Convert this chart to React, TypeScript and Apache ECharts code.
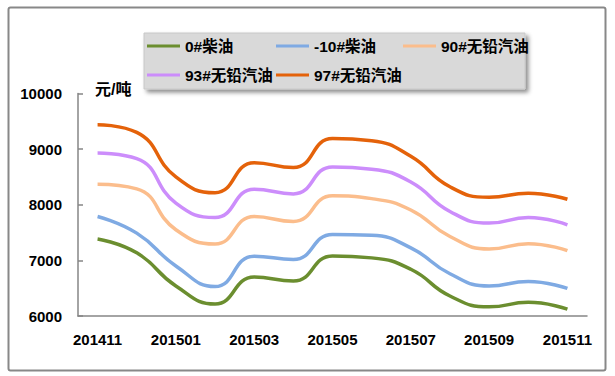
import React, { useEffect, useRef } from "react";
import * as echarts from "echarts";

const months = ["201411", "201412", "201501", "201502", "201503", "201504", "201505", "201506", "201507", "201508", "201509", "201510", "201511"];
const seriesNames = ["0#柴油", "-10#柴油", "90#无铅汽油", "93#无铅汽油", "97#无铅汽油"];
const diesel0 = [7385, 7135, 6540, 6215, 6700, 6630, 7080, 7045, 6840, 6360, 6165, 6245, 6125];
const diesel10 = [7790, 7490, 6900, 6530, 7075, 7015, 7465, 7450, 7225, 6760, 6540, 6620, 6495];
const gas90 = [8370, 8285, 7550, 7295, 7790, 7700, 8160, 8110, 7905, 7430, 7205, 7300, 7175];
const gas93 = [8930, 8830, 8030, 7770, 8280, 8195, 8680, 8640, 8410, 7880, 7670, 7770, 7640];
const gas97 = [9440, 9300, 8500, 8216, 8757, 8668, 9190, 9150, 8870, 8323, 8134, 8205, 8098];
const seriesColors = ["#6b8e2f", "#7faae3", "#fbbd8c", "#cc8dfb", "#e4620a"];
const yTicks = { min: 6000, max: 10000, step: 1000 };
const unitLabel = "元/吨";

const FONT = '"Liberation Sans", "Noto Sans CJK SC", sans-serif';

export default function App() {
  const ref = useRef<HTMLDivElement>(null);
  useEffect(() => {
    if (!ref.current) return;
    const chart = echarts.init(ref.current, undefined, { renderer: "svg" });
    const allData = [diesel0, diesel10, gas90, gas93, gas97];
    const legendPos = [
      { left: 147, top: 36 },
      { left: 276, top: 36 },
      { left: 403, top: 36 },
      { left: 147, top: 65 },
      { left: 276, top: 65 },
    ];
    chart.setOption({
      animation: false,
      backgroundColor: "#ffffff",
      grid: { left: 78, right: 28, top: 93.5, bottom: 60, containLabel: false },
      graphic: [
        {
          type: "rect",
          z: -10,
          shape: { x: 8.5, y: 7.5, width: 597, height: 363, r: 2 },
          style: { fill: "#ffffff", stroke: "#888888", lineWidth: 2 },
        },
        {
          type: "rect",
          z: 0,
          shape: { x: 144, y: 33, width: 381, height: 56 },
          style: {
            fill: "#d9d9d9",
            stroke: "#c8c8c8",
            lineWidth: 1,
            shadowBlur: 4,
            shadowOffsetX: 3,
            shadowOffsetY: 3,
            shadowColor: "rgba(0,0,0,0.45)",
          },
        },
        {
          type: "text",
          z: 5,
          left: 95,
          top: 81,
          style: { text: unitLabel, font: "bold 16px " + FONT, fill: "#000000" },
        },
      ],
      legend: seriesNames.map((n, i) => ({
        data: [n],
        left: legendPos[i].left,
        top: legendPos[i].top,
        padding: 0,
        icon: "rect",
        itemWidth: 33,
        itemHeight: 3,
        textStyle: { fontSize: 15.5, fontWeight: "bold", fontFamily: FONT, color: "#000000", lineHeight: 20 },
        z: 5,
      })),
      xAxis: {
        type: "category",
        data: months,
        boundaryGap: true,
        axisLine: { lineStyle: { color: "#868686", width: 1.5 } },
        axisTick: { inside: true, length: 5, interval: 1, lineStyle: { color: "#868686", width: 1.5 } },
        axisLabel: { interval: 1, margin: 16, fontSize: 15, fontWeight: "bold", fontFamily: FONT, color: "#000000" },
        splitLine: { show: false },
      },
      yAxis: {
        type: "value",
        min: yTicks.min,
        max: yTicks.max,
        interval: yTicks.step,
        axisLine: { show: true, lineStyle: { color: "#868686", width: 1.5 } },
        axisTick: { show: true, inside: true, length: 5, lineStyle: { color: "#868686", width: 1.5 } },
        axisLabel: {
          margin: 16,
          fontSize: 15,
          fontWeight: "bold",
          fontFamily: FONT,
          color: "#000000",
          formatter: (v: number) => String(v),
        },
        splitLine: { show: false },
      },
      series: seriesNames.map((n, i) => ({
        name: n,
        type: "line",
        data: allData[i],
        smooth: 0.5,
        showSymbol: false,
        symbol: "none",
        color: seriesColors[i],
        lineStyle: { color: seriesColors[i], width: 3.5 },
      })),
    });
    return () => chart.dispose();
  }, []);
  return <div ref={ref} style={{ position: "fixed", left: 0, top: 0, width: 615, height: 376 }} />;
}
